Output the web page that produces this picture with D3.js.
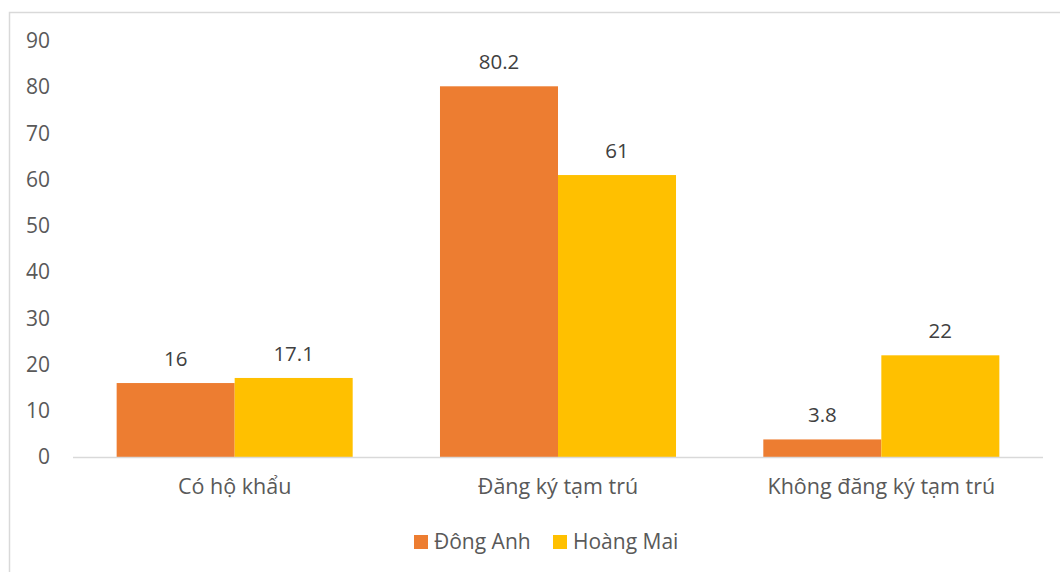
<!DOCTYPE html>
<html>
<head>
<meta charset="utf-8">
<script src="https://cdn.jsdelivr.net/npm/d3@7"></script>
<style>
  html, body { margin: 0; padding: 0; background: #fff; }
  svg { display: block; font-family: "Open Sans", "Noto Sans", sans-serif; }
</style>
</head>
<body>
<svg id="chart" width="1060" height="572"></svg>
<script>
const categories = ["Có hộ khẩu", "Đăng ký tạm trú", "Không đăng ký tạm trú"];
const seriesNames = ["Đông Anh", "Hoàng Mai"];
const dongAnh = [16, 80.2, 3.8];
const hoangMai = [17.1, 61, 22];
const yTicks = [0, 10, 20, 30, 40, 50, 60, 70, 80, 90];
const colors = ["#ED7D31", "#FFC000"];

(function draw() {
  const svg = d3.select("#chart");
  const W = 1060, H = 572;

  // outer frame
  svg.append("rect")
    .attr("x", 9.5).attr("y", 12.5)
    .attr("width", W + 20).attr("height", H + 20)
    .attr("fill", "#fff").attr("stroke", "#d9d9d9").attr("stroke-width", 1.5);

  const plotLeft = 73, plotRight = 1043, plotTop = 41, plotBottom = 457;

  const x0 = d3.scaleBand().domain(categories).range([plotLeft, plotRight])
    .paddingInner(0.27).paddingOuter(0.135);
  const x1 = d3.scaleBand().domain(seriesNames).range([0, x0.bandwidth()]);
  const y = d3.scaleLinear().domain([0, 90]).range([plotBottom, plotTop]);

  // y axis labels
  const yAxis = d3.axisLeft(y).tickValues(yTicks).tickSize(0).tickPadding(0);
  const gy = svg.append("g").attr("transform", "translate(50,0)").call(yAxis);
  gy.select(".domain").remove();
  gy.selectAll("text").attr("fill", "#595959").style("font-size", "21px")
    .style("font-family", "'Open Sans', sans-serif");

  // bars
  const rows = categories.map((c, i) => ({ cat: c, vals: [dongAnh[i], hoangMai[i]] }));
  const groups = svg.append("g").selectAll("g").data(rows).join("g")
    .attr("transform", d => `translate(${x0(d.cat)},0)`);
  const items = d => d.vals.map((v, j) => ({ name: seriesNames[j], v, j }));
  groups.selectAll("rect").data(items).join("rect")
    .attr("x", d => x1(d.name))
    .attr("y", d => y(d.v))
    .attr("width", x1.bandwidth())
    .attr("height", d => y(0) - y(d.v))
    .attr("fill", d => colors[d.j]);

  // value labels
  groups.selectAll("text.val").data(items).join("text").attr("class", "val")
    .attr("x", d => x1(d.name) + x1.bandwidth() / 2)
    .attr("y", d => y(d.v) - 17)
    .attr("text-anchor", "middle")
    .attr("fill", "#404040")
    .style("font-size", "20.5px")
    .text(d => d.v);

  // baseline
  svg.append("line")
    .attr("x1", plotLeft).attr("x2", plotRight)
    .attr("y1", plotBottom + 0.5).attr("y2", plotBottom + 0.5)
    .attr("stroke", "#d9d9d9").attr("stroke-width", 1.5);

  // category axis
  const xAxis = d3.axisBottom(x0).tickSize(0).tickPadding(0);
  const gx = svg.append("g").attr("transform", `translate(0,${plotBottom + 22})`).call(xAxis);
  gx.select(".domain").remove();
  gx.selectAll("text").attr("fill", "#595959").style("font-size", "21.5px")
    .style("font-family", "'Open Sans', sans-serif");

  // legend
  const legendX = [414, 553];
  const lg = svg.append("g").selectAll("g").data(seriesNames).join("g")
    .attr("transform", (d, i) => `translate(${legendX[i]},535)`);
  lg.append("rect").attr("width", 14).attr("height", 14).attr("fill", (d, i) => colors[i]);
  lg.append("text").attr("x", 20).attr("y", 7).attr("dy", "0.35em")
    .attr("fill", "#595959").style("font-size", "21px").text(d => d);
})();
</script>
</body>
</html>
